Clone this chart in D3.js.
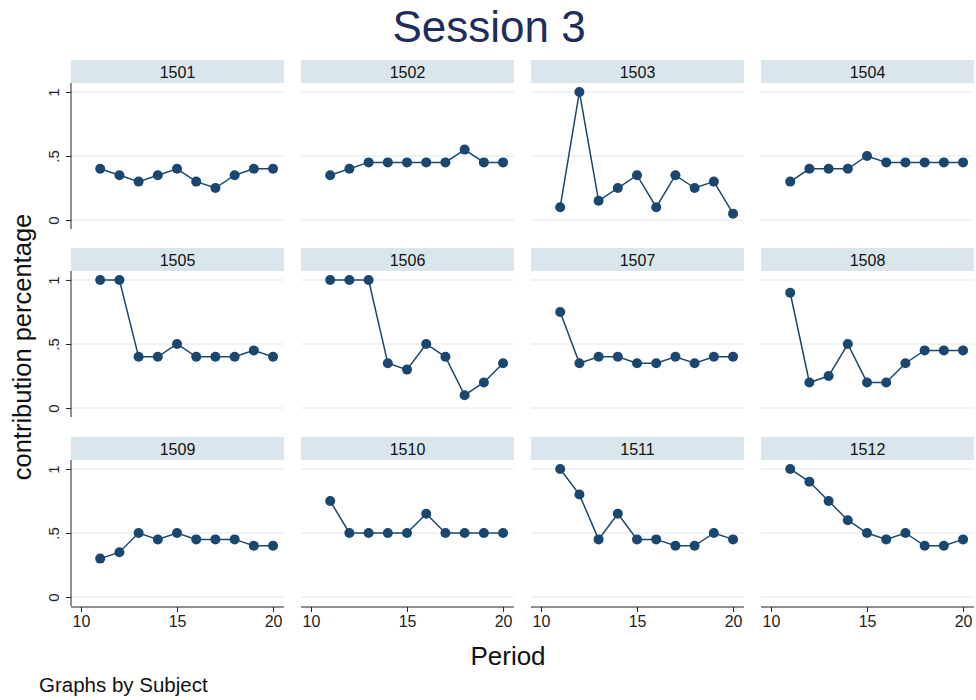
<!DOCTYPE html>
<html>
<head>
<meta charset="utf-8">
<script src="https://cdn.jsdelivr.net/npm/d3@7/dist/d3.min.js"></script>
<style>
  body { margin: 0; background: #fff; }
  text { font-family: "Liberation Sans", Arial, sans-serif; }
</style>
</head>
<body>
<div class="chart"></div>
<script>
const periods = [11, 12, 13, 14, 15, 16, 17, 18, 19, 20];
const subjects = ['1501', '1502', '1503', '1504', '1505', '1506', '1507', '1508', '1509', '1510', '1511', '1512'];
const s1501 = [0.4, 0.35, 0.3, 0.35, 0.4, 0.3, 0.25, 0.35, 0.4, 0.4];
const s1502 = [0.35, 0.4, 0.45, 0.45, 0.45, 0.45, 0.45, 0.55, 0.45, 0.45];
const s1503 = [0.1, 1, 0.15, 0.25, 0.35, 0.1, 0.35, 0.25, 0.3, 0.05];
const s1504 = [0.3, 0.4, 0.4, 0.4, 0.5, 0.45, 0.45, 0.45, 0.45, 0.45];
const s1505 = [1, 1, 0.4, 0.4, 0.5, 0.4, 0.4, 0.4, 0.45, 0.4];
const s1506 = [1, 1, 1, 0.35, 0.3, 0.5, 0.4, 0.1, 0.2, 0.35];
const s1507 = [0.75, 0.35, 0.4, 0.4, 0.35, 0.35, 0.4, 0.35, 0.4, 0.4];
const s1508 = [0.9, 0.2, 0.25, 0.5, 0.2, 0.2, 0.35, 0.45, 0.45, 0.45];
const s1509 = [0.3, 0.35, 0.5, 0.45, 0.5, 0.45, 0.45, 0.45, 0.4, 0.4];
const s1510 = [0.75, 0.5, 0.5, 0.5, 0.5, 0.65, 0.5, 0.5, 0.5, 0.5];
const s1511 = [1, 0.8, 0.45, 0.65, 0.45, 0.45, 0.4, 0.4, 0.5, 0.45];
const s1512 = [1, 0.9, 0.75, 0.6, 0.5, 0.45, 0.5, 0.4, 0.4, 0.45];
const series = [s1501, s1502, s1503, s1504, s1505, s1506, s1507, s1508, s1509, s1510, s1511, s1512];
const xTicks = [10, 15, 20];
const yTicks = [0, 0.5, 1];
const yTickLabels = ['0', '.5', '1'];

const W = 976;
const H = 700;
const COLS = 4;
const colLeft = [71, 301, 531, 761];
const panelW = 213;
const stripH = 23;
const rowTop = [60, 248, 437]; // strip tops
const plotH = 146;
const navy = '#1a476f';

const svg = d3.select('.chart')
  .append('svg')
  .attr('width', W)
  .attr('height', H);

const x = d3.scaleLinear().domain([9.48, 20.57]).range([0, panelW]);
const y = d3.scaleLinear().domain([-0.07, 1.07]).range([plotH, 0]);

const line = d3.line()
  .x((d, i) => x(periods[i]))
  .y(d => y(d));

subjects.forEach((subj, k) => {
  const col = k % COLS;
  const row = Math.floor(k / COLS);
  const g = svg.append('g')
    .attr('transform', `translate(${colLeft[col]},${rowTop[row]})`);

  // strip
  g.append('rect')
    .attr('width', panelW)
    .attr('height', stripH)
    .attr('fill', '#d9e6eb');
  g.append('text')
    .attr('x', panelW / 2)
    .attr('y', stripH / 2 + 6)
    .attr('text-anchor', 'middle')
    .attr('font-size', 16)
    .attr('fill', '#111')
    .text(subj);

  const p = g.append('g').attr('transform', `translate(0,${stripH})`);

  // gridlines
  p.selectAll('.grid')
    .data(yTicks)
    .enter()
    .append('line')
    .attr('x1', 0)
    .attr('x2', panelW)
    .attr('y1', d => y(d))
    .attr('y2', d => y(d))
    .attr('stroke', '#eaf2f3')
    .attr('stroke-width', 1.5);

  // y axis for first column
  if (col === 0) {
    const yAxis = d3.axisLeft(y)
      .tickValues(yTicks)
      .tickSize(5)
      .tickFormat((d, i) => yTickLabels[i]);
    const ya = p.append('g').call(yAxis);
    ya.select('.domain').attr('stroke', '#222').attr('d', `M0,0V${plotH}`);
    ya.selectAll('.tick line').attr('stroke', '#222');
    ya.selectAll('.tick text')
      .attr('font-size', 15)
      .attr('fill', '#222')
      .attr('transform', 'rotate(-90)')
      .attr('x', 0)
      .attr('y', -12)
      .attr('dy', 0)
      .attr('text-anchor', 'middle');
  }

  // x axis for bottom row
  if (row === 2) {
    const xAxis = d3.axisBottom(x)
      .tickValues(xTicks)
      .tickSize(5)
      .tickFormat(d3.format('d'));
    const xa = p.append('g')
      .attr('transform', `translate(0,${plotH + 1})`)
      .call(xAxis);
    xa.select('.domain').attr('stroke', '#222').attr('d', `M0,0H${panelW}`);
    xa.selectAll('.tick line').attr('stroke', '#222');
    xa.selectAll('.tick text')
      .attr('font-size', 16)
      .attr('fill', '#222')
      .attr('y', 9);
  }

  const vals = series[k];
  p.append('path')
    .datum(vals)
    .attr('d', line)
    .attr('fill', 'none')
    .attr('stroke', navy)
    .attr('stroke-width', 1.5);

  p.selectAll('circle')
    .data(vals)
    .enter()
    .append('circle')
    .attr('cx', (d, i) => x(periods[i]))
    .attr('cy', d => y(d))
    .attr('r', 5)
    .attr('fill', navy);
});

// titles
svg.append('text')
  .attr('x', 489)
  .attr('y', 42)
  .attr('text-anchor', 'middle')
  .attr('font-size', 44)
  .attr('fill', '#1e2d5c')
  .text('Session 3');

svg.append('text')
  .attr('transform', 'translate(31,347) rotate(-90)')
  .attr('text-anchor', 'middle')
  .attr('font-size', 25.5)
  .attr('fill', '#111')
  .text('contribution percentage');

svg.append('text')
  .attr('x', 508)
  .attr('y', 665)
  .attr('text-anchor', 'middle')
  .attr('font-size', 26)
  .attr('fill', '#111')
  .text('Period');

svg.append('text')
  .attr('x', 39)
  .attr('y', 692)
  .attr('font-size', 20.5)
  .attr('fill', '#111')
  .text('Graphs by Subject');
</script>
</body>
</html>
